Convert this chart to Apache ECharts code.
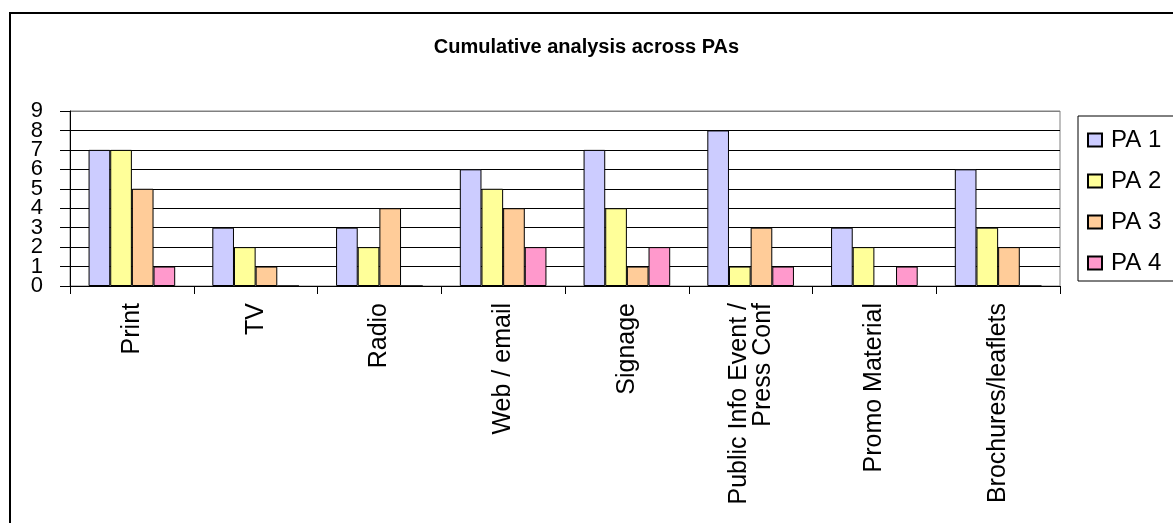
<!DOCTYPE html>
<html>
<head>
<meta charset="utf-8">
<script src="https://cdn.jsdelivr.net/npm/echarts@6/dist/echarts.min.js"></script>
<style>
html,body{margin:0;padding:0;background:#fff;}
#main{width:1173px;height:523px;}
</style>
</head>
<body>
<div id="main"></div>
<script>
const categories = ['Print', 'TV', 'Radio', 'Web / email', 'Signage', 'Public Info Event /\nPress Conf', 'Promo Material', 'Brochures/leaflets'];
const seriesNames = ['PA 1', 'PA 2', 'PA 3', 'PA 4'];
const pa1 = [7, 3, 3, 6, 7, 8, 3, 6];
const pa2 = [7, 2, 2, 5, 4, 1, 2, 3];
const pa3 = [5, 1, 4, 4, 1, 3, 0, 2];
const pa4 = [1, 0, 0, 2, 2, 1, 1, 0];
const yTicks = [0, 1, 2, 3, 4, 5, 6, 7, 8, 9];
const colors = ['#CCCCFF', '#FFFF99', '#FFCC99', '#FF99CC'];
const titleText = 'Cumulative analysis across PAs';

const FONT = 'Liberation Sans, Arial, sans-serif';
const chart = echarts.init(document.getElementById('main'));
const allData = [pa1, pa2, pa3, pa4];

const splitColors = yTicks.map((v, i) => i === yTicks.length - 1 ? '#808080' : '#000000');
const evenTicks = yTicks.filter(v => v % 2 === 0);
const oddTicks = yTicks.filter(v => v % 2 === 1);

const yLabelStyle = { margin: 27, fontFamily: FONT, fontSize: 22, color: '#000', lineHeight: 16, hideOverlap: false };

chart.setOption({
  animation: false,
  backgroundColor: '#ffffff',
  title: {
    text: titleText,
    left: 'center',
    top: 37,
    padding: 0,
    textStyle: { fontFamily: FONT, fontSize: 20, fontWeight: 'bold', color: '#000' }
  },
  graphic: [{
    type: 'rect',
    shape: { x: 10, y: 13, width: 1200, height: 600 },
    style: { fill: 'none', stroke: '#000', lineWidth: 2 },
    z: 100
  }],
  legend: {
    orient: 'vertical',
    left: 1078,
    top: 116,
    padding: [12, 40, 6, 9],
    itemGap: 17,
    itemWidth: 14,
    itemHeight: 13,
    icon: 'rect',
    borderColor: '#000',
    borderWidth: 1,
    backgroundColor: '#fff',
    textStyle: { fontFamily: FONT, fontSize: 24, color: '#000', lineHeight: 21, padding: [0, 0, 0, 4] },
    data: seriesNames
  },
  grid: {
    left: 70, top: 111, width: 990, height: 175,
    show: true, borderColor: '#808080', borderWidth: 1, backgroundColor: 'transparent'
  },
  xAxis: {
    type: 'category',
    data: categories,
    axisLine: { lineStyle: { color: '#000', width: 1 } },
    axisTick: { show: true, length: 8, lineStyle: { color: '#000' } },
    axisLabel: {
      rotate: 90, margin: 17, interval: 0,
      fontFamily: FONT, fontSize: 25, color: '#000', lineHeight: 24
    }
  },
  yAxis: [{
    type: 'value',
    position: 'left',
    min: 0, max: 9, interval: 1,
    axisLine: { show: true, lineStyle: { color: '#000', width: 1 } },
    axisTick: { show: true, length: 10, lineStyle: { color: '#000' } },
    axisLabel: Object.assign({ customValues: evenTicks }, yLabelStyle),
    splitLine: { show: true, lineStyle: { color: splitColors, width: 1 } }
  }, {
    type: 'value',
    position: 'left',
    offset: 0,
    min: 0, max: 9, interval: 1,
    axisLine: { show: false },
    axisTick: { show: false },
    axisLabel: Object.assign({ customValues: oddTicks }, yLabelStyle),
    splitLine: { show: false }
  }],
  series: seriesNames.map((name, i) => ({
    name: name,
    type: 'bar',
    yAxisIndex: 0,
    data: allData[i],
    barGap: '0%',
    barCategoryGap: '30%',
    itemStyle: { color: colors[i], borderColor: '#000', borderWidth: 1 }
  }))
});
</script>
</body>
</html>
